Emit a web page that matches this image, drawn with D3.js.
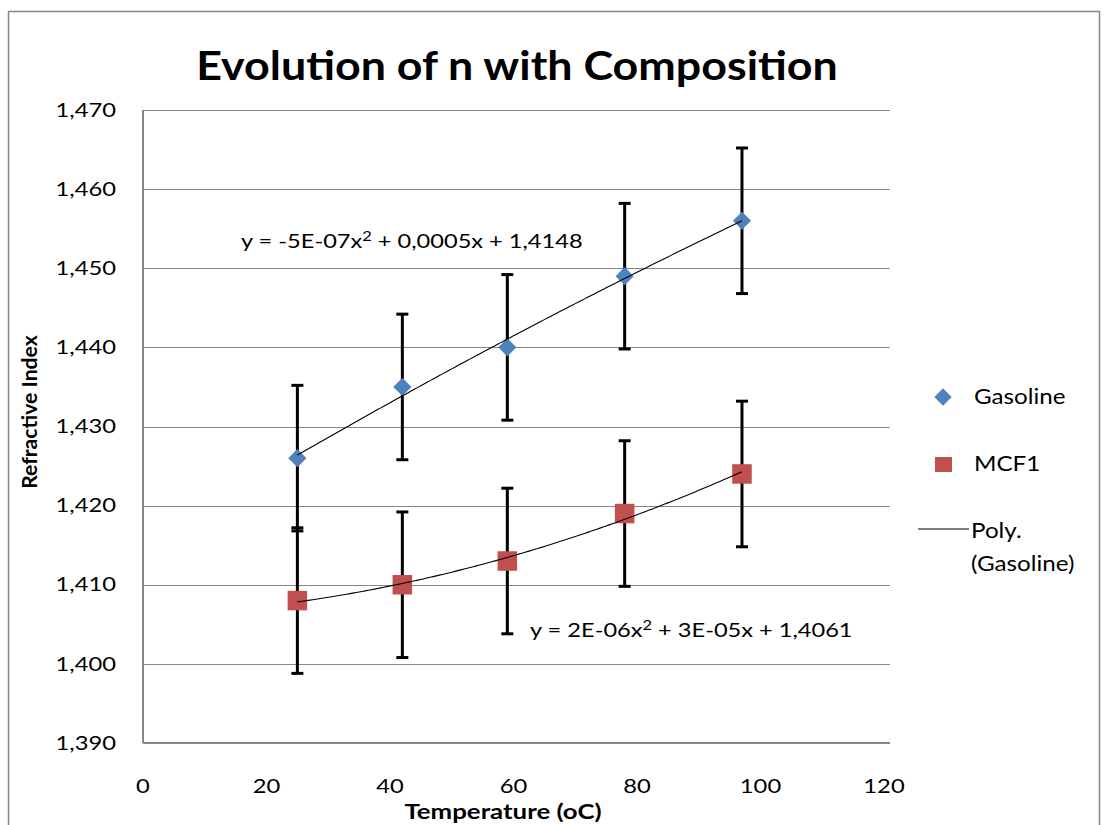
<!DOCTYPE html>
<html>
<head>
<meta charset="utf-8">
<script src="https://cdn.jsdelivr.net/npm/d3@7"></script>
<style>
  body { margin: 0; background: #fff; }
  text { font-family: Lato, "Open Sans", sans-serif; fill: #000; }
</style>
</head>
<body>
<div id="chart"></div>
<script>
// values
var temperatures = [25, 42, 59, 78, 97]
var gasoline = [1.426, 1.435, 1.440, 1.449, 1.456]
var mcf1 = [1.408, 1.410, 1.413, 1.419, 1.424]
var gasolineErr = [0.0092, 0.0092, 0.0092, 0.0092, 0.0092]
var mcf1Err = [0.0092, 0.0092, 0.0092, 0.0092, 0.0092]
var xTicks = [0, 20, 40, 60, 80, 100, 120]
var yTicks = [1.39, 1.40, 1.41, 1.42, 1.43, 1.44, 1.45, 1.46, 1.47]
var gasolineEq = ["y = -5E-07x", "2", " + 0,0005x + 1,4148"]
var mcf1Eq = ["y = 2E-06x", "2", " + 3E-05x + 1,4061"]

var width = 1105,
    height = 825

var blue = "#4F81BD",
    red = "#C0504D",
    grid = "#868686"

var svg = d3.select("#chart").append("svg")
    .attr("width", width)
    .attr("height", height)

// text in the original is drawn a bit wide, so stretch it sideways
function label(parent, px, py, sx, size) {
  return parent.append("text")
      .attr("transform", "translate(" + px + "," + py + ") scale(" + sx + ",1)")
      .style("font-size", size + "px")
}

// outer chart frame
svg.append("rect")
    .attr("x", 8.5).attr("y", 11.5)
    .attr("width", 1091).attr("height", 830)
    .attr("fill", "none")
    .attr("stroke", grid)
    .attr("stroke-width", 1.5)

var x = d3.scaleLinear().domain([0, 120]).range([143, 884])
var y = d3.scaleLinear().domain([1.39, 1.47]).range([743, 110])
var plotRight = 890

// gridlines
svg.append("g").selectAll("line")
    .data(yTicks.slice(1)).enter()
  .append("line")
    .attr("x1", x(0)).attr("x2", plotRight)
    .attr("y1", function(d) { return Math.round(y(d)) + 0.5 })
    .attr("y2", function(d) { return Math.round(y(d)) + 0.5 })
    .attr("stroke", grid)
    .attr("stroke-width", 1)

// axes lines
svg.append("line")
    .attr("x1", x(0)).attr("x2", plotRight)
    .attr("y1", y(1.39)).attr("y2", y(1.39))
    .attr("stroke", grid).attr("stroke-width", 2)
svg.append("line")
    .attr("x1", x(0)).attr("x2", x(0))
    .attr("y1", y(1.47)).attr("y2", y(1.39))
    .attr("stroke", grid).attr("stroke-width", 2)

// tick labels
var fmtY = function(d) { return d3.format(".3f")(d).replace(".", ",") }
var yLabels = svg.append("g")
yTicks.forEach(function(d) {
  label(yLabels, 116, y(d), 1.25, 19)
      .attr("dy", "0.35em")
      .attr("text-anchor", "end")
      .text(fmtY(d))
})
var xLabels = svg.append("g")
xTicks.forEach(function(d) {
  label(xLabels, x(d), 793, 1.25, 19)
      .attr("text-anchor", "middle")
      .text(d)
})

// titles
label(svg, 517, 80, 1.12, 40)
    .attr("text-anchor", "middle")
    .style("font-weight", "bold")
    .text("Evolution of n with Composition")

label(svg, 503, 819, 1.29, 20)
    .attr("text-anchor", "middle")
    .style("font-weight", "bold")
    .text("Temperature (oC)")

svg.append("text")
    .attr("transform", "translate(37,412) rotate(-90) scale(1.06,1)")
    .attr("text-anchor", "middle")
    .style("font-size", "20px")
    .style("font-weight", "bold")
    .text("Refractive Index")

// quadratic least squares, like the spreadsheet trendline
function polyFit(xs, ys) {
  var s = [0, 0, 0, 0, 0], t = [0, 0, 0]
  xs.forEach(function(xv, i) {
    for (var k = 0; k < 5; k++) s[k] += Math.pow(xv, k)
    for (var k = 0; k < 3; k++) t[k] += ys[i] * Math.pow(xv, k)
  })
  var m = [[s[0], s[1], s[2], t[0]], [s[1], s[2], s[3], t[1]], [s[2], s[3], s[4], t[2]]]
  for (var i = 0; i < 3; i++) {
    for (var j = i + 1; j < 3; j++) {
      var f = m[j][i] / m[i][i]
      for (var k = i; k < 4; k++) m[j][k] -= f * m[i][k]
    }
  }
  var c = [0, 0, 0]
  for (var i = 2; i >= 0; i--) {
    var v = m[i][3]
    for (var k = i + 1; k < 3; k++) v -= m[i][k] * c[k]
    c[i] = v / m[i][i]
  }
  return function(xv) { return c[0] + c[1] * xv + c[2] * xv * xv }
}

function series(values, errs) {
  return temperatures.map(function(t, i) { return { t: t, v: values[i], e: errs[i] } })
}

var sets = [
  { data: series(gasoline, gasolineErr), color: blue, rot: 45, size: 165 },
  { data: series(mcf1, mcf1Err), color: red, rot: 0, size: 380 }
]

// error bars
sets.forEach(function(s) {
  var g = svg.append("g").attr("stroke", "#000").attr("stroke-width", 3)
  g.selectAll(".bar").data(s.data).enter()
    .append("line")
      .attr("x1", function(d) { return x(d.t) }).attr("x2", function(d) { return x(d.t) })
      .attr("y1", function(d) { return y(d.v + d.e) }).attr("y2", function(d) { return y(d.v - d.e) })
  g.selectAll(".capTop").data(s.data).enter()
    .append("line")
      .attr("x1", function(d) { return x(d.t) - 6 }).attr("x2", function(d) { return x(d.t) + 6 })
      .attr("y1", function(d) { return y(d.v + d.e) }).attr("y2", function(d) { return y(d.v + d.e) })
  g.selectAll(".capBottom").data(s.data).enter()
    .append("line")
      .attr("x1", function(d) { return x(d.t) - 6 }).attr("x2", function(d) { return x(d.t) + 6 })
      .attr("y1", function(d) { return y(d.v - d.e) }).attr("y2", function(d) { return y(d.v - d.e) })
})

// markers
sets.forEach(function(s) {
  svg.append("g").selectAll("path")
      .data(s.data).enter()
    .append("path")
      .attr("transform", function(d) {
        return "translate(" + x(d.t) + "," + y(d.v) + ") rotate(" + s.rot + ")"
      })
      .attr("d", d3.symbol().type(d3.symbolSquare).size(s.size))
      .attr("fill", s.color)
})

// trendlines
var line = d3.line()
    .x(function(d) { return x(d[0]) })
    .y(function(d) { return y(d[1]) })
sets.forEach(function(s) {
  var vals = s.data.map(function(d) { return d.v })
  var fit = polyFit(temperatures, vals)
  var pts = d3.range(temperatures[0], temperatures[temperatures.length - 1] + 0.01, 0.5)
      .map(function(t) { return [t, fit(t)] })
  svg.append("path")
      .datum(pts)
      .attr("d", line)
      .attr("fill", "none")
      .attr("stroke", "#000")
      .attr("stroke-width", 1.1)
})

// equations
function equation(parts, px, py) {
  var t = label(svg, px, py, 1.18, 20)
  t.append("tspan").text(parts[0])
  t.append("tspan").attr("dy", -7).style("font-size", "14px").text(parts[1])
  t.append("tspan").attr("dy", 7).text(parts[2])
}
equation(gasolineEq, 241, 248)
equation(mcf1Eq, 530, 637)

// legend
var legend = svg.append("g")
legend.append("path")
    .attr("transform", "translate(943,397) rotate(45)")
    .attr("d", d3.symbol().type(d3.symbolSquare).size(150))
    .attr("fill", blue)
label(legend, 974, 404, 1.1, 22).text("Gasoline")
legend.append("rect")
    .attr("x", 935).attr("y", 457).attr("width", 17).attr("height", 15)
    .attr("fill", red)
label(legend, 974, 471, 1.1, 22).text("MCF1")
legend.append("line")
    .attr("x1", 918).attr("x2", 969).attr("y1", 529).attr("y2", 529)
    .attr("stroke", "#000").attr("stroke-width", 1.1)
label(legend, 971, 538, 1.1, 22).text("Poly.")
label(legend, 971, 571, 1.1, 22).text("(Gasoline)")
</script>
</body>
</html>
